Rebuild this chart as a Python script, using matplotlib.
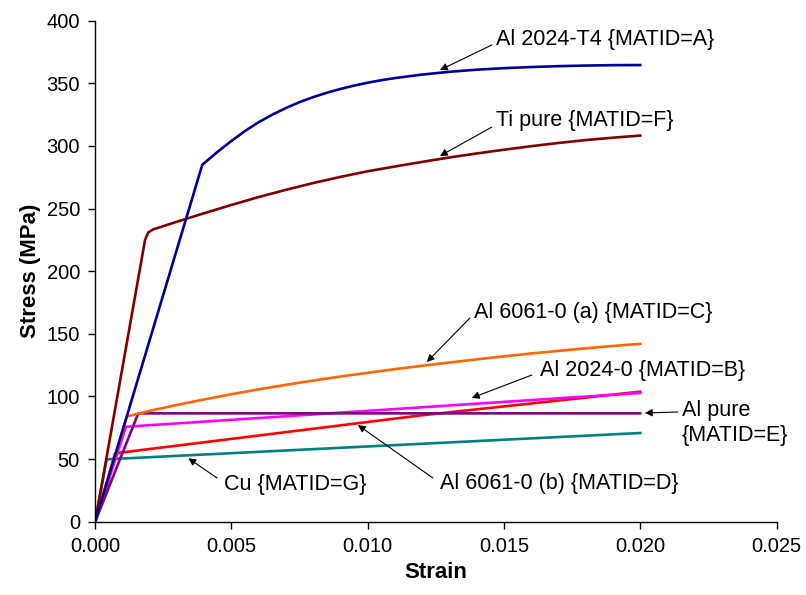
import matplotlib.pyplot as plt

plt.rcParams['font.family'] = ['Liberation Sans', 'DejaVu Sans']

# stress-strain curves, strain (-) vs stress (MPa)
strain_a = [0.0, 0.00393, 0.0045, 0.0050, 0.0055, 0.0060, 0.0065, 0.0070,
            0.0075, 0.0080, 0.0085, 0.0090, 0.0095, 0.0100, 0.0105, 0.0110,
            0.0120, 0.0130, 0.0140, 0.0150, 0.0160, 0.0170, 0.0180, 0.0190,
            0.0200]
stress_a = [0.0, 285.0, 295.5, 304.0, 312.0, 319.0, 325.0, 330.3,
            335.0, 339.0, 342.5, 345.5, 348.2, 350.5, 352.5, 354.2,
            357.0, 359.2, 360.9, 362.1, 363.0, 363.7, 364.2, 364.5,
            364.6]

strain_f = [0.0, 0.00183, 0.00195, 0.00213, 0.003, 0.004, 0.005, 0.006,
            0.007, 0.008, 0.009, 0.010, 0.011, 0.012, 0.013, 0.014,
            0.015, 0.016, 0.017, 0.018, 0.019, 0.020]
stress_f = [0.0, 225.0, 231.0, 233.4, 239.5, 246.3, 252.9, 259.2,
            265.0, 270.4, 275.3, 279.8, 283.6, 287.3, 290.8, 294.0,
            297.0, 299.8, 302.4, 304.7, 306.6, 308.3]

strain_c = [0.0, 0.00116, 0.002, 0.003, 0.004, 0.005, 0.006, 0.007,
            0.008, 0.009, 0.010, 0.011, 0.012, 0.013, 0.014, 0.015,
            0.016, 0.017, 0.018, 0.019, 0.020]
stress_c = [0.0, 84.0, 88.5, 93.2, 97.6, 101.8, 105.7, 109.3,
            112.7, 115.9, 118.9, 121.8, 124.5, 127.1, 129.6, 132.0,
            134.3, 136.4, 138.4, 140.3, 142.0]

strain_b = [0.0, 0.00113, 0.020]
stress_b = [0.0, 75.8, 102.8]

strain_d = [0.0, 0.00073, 0.012, 0.020]
stress_d = [0.0, 54.6, 85.0, 103.8]

strain_e = [0.0, 0.00158, 0.020]
stress_e = [0.0, 86.5, 86.5]

strain_g = [0.0, 0.00042, 0.020]
stress_g = [0.0, 49.8, 70.8]

fig = plt.figure(figsize=(8.06, 5.95), dpi=100)
ax = fig.add_axes([0.1181, 0.1232, 0.8453, 0.842])

lw = 1.9
ax.plot(strain_g, stress_g, color='#008080', lw=lw)
ax.plot(strain_d, stress_d, color='#FF0000', lw=lw)
ax.plot(strain_b, stress_b, color='#FF00FF', lw=lw)
ax.plot(strain_e, stress_e, color='#800080', lw=lw)
ax.plot(strain_c, stress_c, color='#FF6600', lw=lw)
ax.plot(strain_f, stress_f, color='#800000', lw=lw)
ax.plot(strain_a, stress_a, color='#000099', lw=lw)

ax.set_xlim(0, 0.025)
ax.set_ylim(0, 400)
ax.set_xticks([0.0, 0.005, 0.010, 0.015, 0.020, 0.025])
ax.set_xticklabels(['0.000', '0.005', '0.010', '0.015', '0.020', '0.025'])
ax.set_yticks(range(0, 401, 50))
ax.tick_params(direction='out', length=5, width=1, labelsize=14.5, pad=6)
for side in ('top', 'right'):
    ax.spines[side].set_visible(False)
for side in ('left', 'bottom'):
    ax.spines[side].set_linewidth(1)

ax.set_xlabel('Strain', fontsize=16, fontweight='bold', labelpad=4)
ax.set_ylabel('Stress (MPa)', fontsize=16, fontweight='bold', labelpad=4)

# labels with pointer arrows
labels = [
    ('Al 2024-T4 {MATID=A}', (0.01470, 384.6), (0.01455, 380.6), (0.01265, 360.6)),
    ('Ti pure {MATID=F}', (0.01470, 320.6), (0.01455, 315.0), (0.01265, 292.0)),
    ('Al 6061-0 (a) {MATID=C}', (0.01390, 167.4), (0.01375, 162.6), (0.01217, 127.5)),
    ('Al 2024-0 {MATID=B}', (0.01631, 121.1), (0.01602, 117.1), (0.01382, 98.8)),
    ('Al pure\n{MATID=E}', (0.02153, 78.8), (0.02138, 87.6), (0.02017, 86.8)),
    ('Al 6061-0 (b) {MATID=D}', (0.01265, 30.1), (0.01239, 34.9), (0.00964, 77.2)),
    ('Cu {MATID=G}', (0.00472, 29.3), (0.00447, 34.9), (0.00342, 50.6)),
]
for text, pos, tail, tip in labels:
    ax.text(pos[0], pos[1], text, fontsize=15.5, ha='left', va='center',
            linespacing=1.2)
    ax.annotate('', xy=tip, xytext=tail,
                arrowprops=dict(arrowstyle='-|>', color='black', lw=0.8,
                                mutation_scale=11, shrinkA=0, shrinkB=0))

fig.savefig('out.png', dpi=100)
